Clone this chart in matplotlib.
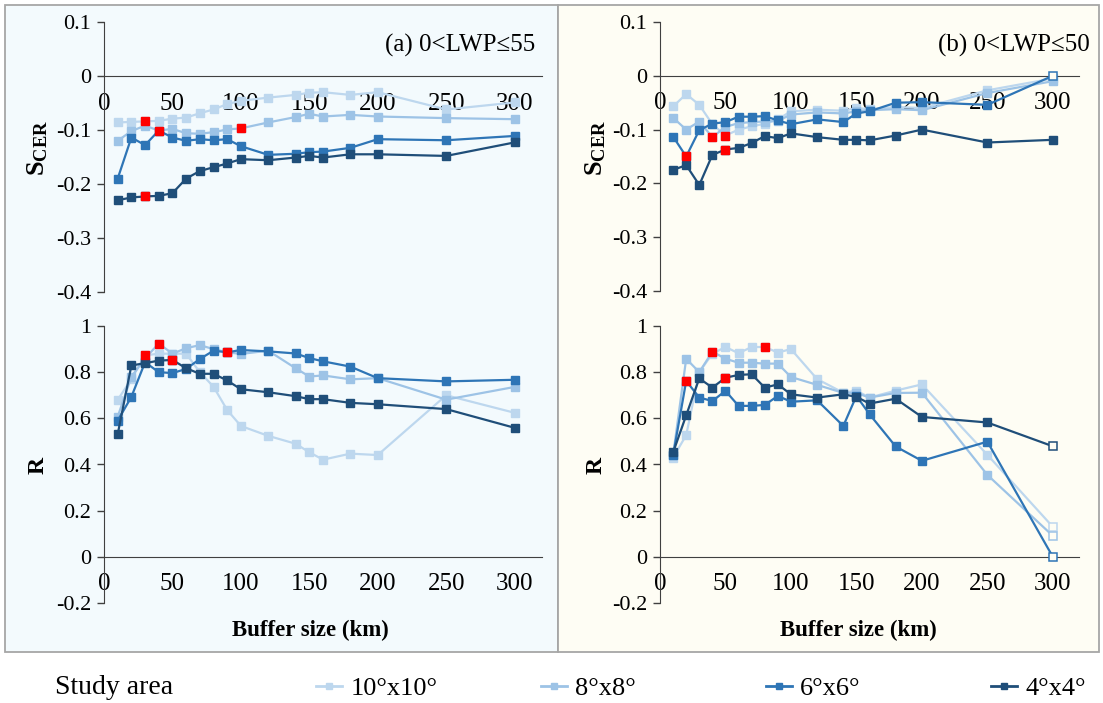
import numpy as np
import matplotlib
matplotlib.use("Agg")
import matplotlib.pyplot as plt
from matplotlib.lines import Line2D
from matplotlib.patches import Rectangle

plt.rcParams['font.family'] = ['Liberation Serif', 'DejaVu Serif']
plt.rcParams['axes.unicode_minus'] = False
plt.rcParams['mathtext.fontset'] = 'custom'
plt.rcParams['mathtext.rm'] = 'Liberation Serif'
plt.rcParams['mathtext.bf'] = 'Liberation Serif:bold'

# ---------------- data ----------------
buffer_km = [10, 20, 30, 40, 50, 60, 70, 80, 90, 100, 120, 140, 150, 160, 180, 200, 250, 300]
study_areas = ['10°x10°', '8°x8°', '6°x6°', '4°x4°']

# panel (a) 0<LWP<=55 : S_CER
a_s_10 = [-0.086, -0.085, -0.084, -0.083, -0.079, -0.077, -0.069, -0.062, -0.052, -0.046, -0.040, -0.035, -0.031, -0.030, -0.035, -0.030, -0.062, -0.049]
a_s_8 = [-0.120, -0.102, -0.092, -0.101, -0.098, -0.106, -0.107, -0.104, -0.099, -0.097, -0.086, -0.076, -0.070, -0.075, -0.072, -0.075, -0.078, -0.080]
a_s_6 = [-0.190, -0.114, -0.128, -0.101, -0.114, -0.120, -0.117, -0.119, -0.117, -0.130, -0.146, -0.144, -0.141, -0.140, -0.133, -0.117, -0.119, -0.111]
a_s_4 = [-0.230, -0.225, -0.223, -0.222, -0.217, -0.190, -0.176, -0.169, -0.162, -0.154, -0.156, -0.151, -0.148, -0.151, -0.145, -0.145, -0.148, -0.123]
# panel (a) : R
a_r_10 = [0.68, 0.77, 0.873, 0.88, 0.88, 0.88, 0.80, 0.737, 0.636, 0.567, 0.524, 0.49, 0.453, 0.421, 0.447, 0.441, 0.70, 0.624]
a_r_8 = [0.607, 0.78, 0.86, 0.924, 0.88, 0.904, 0.917, 0.90, 0.886, 0.879, 0.893, 0.817, 0.781, 0.786, 0.769, 0.774, 0.681, 0.736]
a_r_6 = [0.59, 0.693, 0.843, 0.80, 0.796, 0.814, 0.857, 0.893, 0.886, 0.896, 0.89, 0.881, 0.861, 0.847, 0.824, 0.774, 0.76, 0.767]
a_r_4 = [0.531, 0.829, 0.839, 0.85, 0.853, 0.817, 0.793, 0.793, 0.764, 0.726, 0.713, 0.696, 0.683, 0.683, 0.667, 0.661, 0.64, 0.559]

# panel (b) 0<LWP<=50 : S_CER
b_s_10 = [-0.057, -0.034, -0.054, -0.090, -0.111, -0.100, -0.094, -0.089, -0.081, -0.066, -0.063, -0.065, -0.060, -0.062, -0.058, -0.060, -0.027, -0.005]
b_s_8 = [-0.078, -0.100, -0.085, -0.114, -0.095, -0.088, -0.086, -0.085, -0.084, -0.072, -0.068, -0.070, -0.066, -0.064, -0.062, -0.064, -0.032, -0.010]
b_s_6 = [-0.113, -0.150, -0.101, -0.089, -0.086, -0.076, -0.076, -0.075, -0.083, -0.090, -0.081, -0.086, -0.070, -0.066, -0.050, -0.049, -0.054, 0.0]
b_s_4 = [-0.175, -0.166, -0.203, -0.147, -0.137, -0.134, -0.125, -0.112, -0.116, -0.107, -0.114, -0.119, -0.119, -0.120, -0.111, -0.100, -0.124, -0.119]
# panel (b) : R
b_r_10 = [0.43, 0.527, 0.80, 0.88, 0.909, 0.882, 0.909, 0.909, 0.885, 0.90, 0.77, 0.711, 0.72, 0.69, 0.72, 0.747, 0.442, 0.13]
b_r_8 = [0.44, 0.858, 0.80, 0.889, 0.858, 0.841, 0.841, 0.837, 0.837, 0.779, 0.745, 0.71, 0.71, 0.69, 0.71, 0.711, 0.355, 0.091]
b_r_6 = [0.44, 0.762, 0.69, 0.675, 0.719, 0.654, 0.654, 0.658, 0.697, 0.672, 0.678, 0.567, 0.697, 0.618, 0.478, 0.416, 0.499, 0.0]
b_r_4 = [0.452, 0.613, 0.773, 0.733, 0.776, 0.788, 0.791, 0.733, 0.747, 0.704, 0.69, 0.704, 0.693, 0.664, 0.685, 0.606, 0.582, 0.479]

# highlighted (red) point index per series, and hollow point indices per series
a_s_red = [2, 9, 3, 2]
a_r_red = [2, 3, 8, 4]
b_s_red = [4, 3, 1, 4]
b_r_red = [7, 3, 1, 4]
b_s_hollow = [[], [], [17], []]
b_r_hollow = [[17], [17], [17], [17]]

s_ticks = [-0.4, -0.3, -0.2, -0.1, 0, 0.1]
r_ticks = [-0.2, 0, 0.2, 0.4, 0.6, 0.8, 1]
x_ticks = [0, 50, 100, 150, 200, 250, 300]

# ---------------- style ----------------
colors = ['#bdd7ee', '#9dc3e6', '#2e75b6', '#1f4e79']
bg_a = '#f3fafd'
bg_b = '#fefdf4'
W, H = 1103, 703

fig = plt.figure(figsize=(W / 100, H / 100), dpi=100)
fig.patch.set_facecolor('white')

# panel backgrounds
fig.add_artist(Rectangle((5 / W, 1 - 652 / H), (558 - 5) / W, (652 - 5) / H,
                         transform=fig.transFigure, facecolor=bg_a, edgecolor='#a6a6a6', lw=1.3, zorder=0))
fig.add_artist(Rectangle((558 / W, 1 - 652 / H), (1099 - 558) / W, (652 - 5) / H,
                         transform=fig.transFigure, facecolor=bg_b, edgecolor='#a6a6a6', lw=1.3, zorder=0))


def make_ax(left_px, right_px, top_px, bottom_px):
    ax = fig.add_axes([left_px / W, 1 - bottom_px / H, (right_px - left_px) / W, (bottom_px - top_px) / H])
    ax.set_facecolor('none')
    for s in ['top', 'right']:
        ax.spines[s].set_visible(False)
    ax.spines['left'].set_color('#404040')
    ax.spines['bottom'].set_color('#404040')
    ax.spines['bottom'].set_position(('data', 0))
    ax.tick_params(axis='x', length=0, pad=12, labelsize=18)
    ax.tick_params(axis='y', length=5, width=1, color='#404040', pad=4, labelsize=16)
    ax.set_xlim(0, 320)
    ax.set_xticks(x_ticks)
    ax.set_xticklabels([str(t) for t in x_ticks])
    return ax


def fmt(v):
    if abs(v) < 1e-9:
        return '0'
    if abs(v - round(v)) < 1e-9:
        return str(int(round(v)))
    return ('%.1f' % v)


def draw(ax, series, red, hollow, bg):
    xs = np.array(buffer_km)
    for k, (vals, col) in enumerate(zip(series, colors)):
        v = np.array(vals)
        ax.plot(xs, v, color=col, lw=1.6, zorder=2 + k)
        hol = hollow[k] if hollow else []
        filled = [i for i in range(len(xs)) if i not in hol]
        ax.plot(xs[filled], v[filled], ls='none', marker='s', ms=5.5, color=col, zorder=2 + k)
        if hol:
            ax.plot(xs[hol], v[hol], ls='none', marker='s', ms=5.5, mfc=bg, mec=col, mew=1.1, zorder=2 + k)
    for k, vals in enumerate(series):
        i = red[k]
        ax.plot([buffer_km[i]], [vals[i]], ls='none', marker='s', ms=5.5, color='#ff0000', zorder=10)


# panel (a)
ax_as = make_ax(104, 542, 22, 292)
ax_as.set_ylim(-0.4, 0.1)
ax_as.set_yticks(s_ticks)
ax_as.set_yticklabels([fmt(t) for t in s_ticks])
draw(ax_as, [a_s_10, a_s_8, a_s_6, a_s_4], a_s_red, None, bg_a)

ax_ar = make_ax(104, 542, 326, 603)
ax_ar.set_ylim(-0.2, 1.0)
ax_ar.set_yticks(r_ticks)
ax_ar.set_yticklabels([fmt(t) for t in r_ticks])
draw(ax_ar, [a_r_10, a_r_8, a_r_6, a_r_4], a_r_red, None, bg_a)

# panel (b)
ax_bs = make_ax(660, 1079, 22, 291)
ax_bs.set_ylim(-0.4, 0.1)
ax_bs.set_yticks(s_ticks)
ax_bs.set_yticklabels([fmt(t) for t in s_ticks])
draw(ax_bs, [b_s_10, b_s_8, b_s_6, b_s_4], b_s_red, b_s_hollow, bg_b)

ax_br = make_ax(660, 1079, 326, 603)
ax_br.set_ylim(-0.2, 1.0)
ax_br.set_yticks(r_ticks)
ax_br.set_yticklabels([fmt(t) for t in r_ticks])
draw(ax_br, [b_r_10, b_r_8, b_r_6, b_r_4], b_r_red, b_r_hollow, bg_b)

# labels
for xp in (38, 596):
    fig.text(xp / W, 1 - 148 / H, r'$\mathbf{S_{CER}}$', rotation=90, ha='center', va='center', fontsize=19)
    fig.text(xp / W, 1 - 465 / H, 'R', rotation=90, ha='center', va='center', fontsize=17, fontweight='bold')
fig.text(535 / W, 1 - 45 / H, '(a) 0<LWP≤55', ha='right', va='center', fontsize=18)
fig.text(1090 / W, 1 - 45 / H, '(b) 0<LWP≤50', ha='right', va='center', fontsize=18)
fig.text(310 / W, 1 - 630 / H, 'Buffer size (km)', ha='center', va='center', fontsize=16.5, fontweight='bold')
fig.text(858 / W, 1 - 630 / H, 'Buffer size (km)', ha='center', va='center', fontsize=16.5, fontweight='bold')

# legend
fig.text(55 / W, 1 - 688 / H, 'Study area', ha='left', va='center', fontsize=20)
leg_x = [316, 541, 766, 991]
for lab, col, lx in zip(study_areas, colors, leg_x):
    h = Line2D([], [], color=col, lw=2, marker='s', ms=5)
    fig.legend([h], [lab], loc='center left', bbox_to_anchor=(lx / W, 1 - 688 / H),
               frameon=False, fontsize=19, handlelength=1.0, handletextpad=0.3,
               borderpad=0, borderaxespad=0)

fig.savefig('out.png', dpi=100, facecolor='white')
